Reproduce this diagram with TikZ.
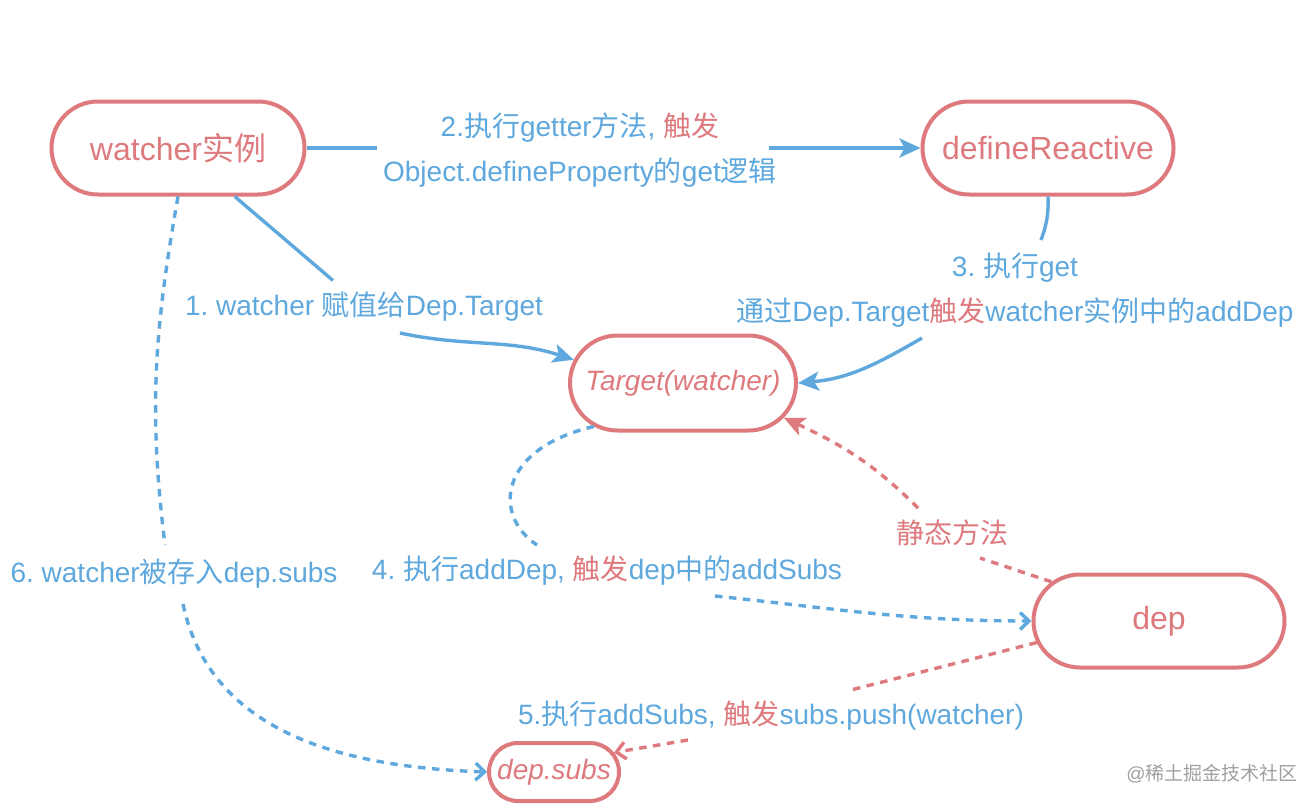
\documentclass[tikz,border=0pt]{standalone}
\usepackage{fontspec}
\setmainfont{Liberation Sans}
\newfontfamily\cjk{Noto Sans CJK SC}
\usetikzlibrary{shapes.misc,arrows.meta,calc}
\definecolor{pk}{RGB}{222,122,126}
\definecolor{bl}{RGB}{94,168,222}
\definecolor{wm}{RGB}{160,160,160}
\newcommand{\zh}[1]{{\cjk #1}}
\newcommand{\hl}[1]{\textcolor{pk}{\cjk #1}}
\frenchspacing
\begin{document}
\begin{tikzpicture}[x=1pt,y=1pt,
  box/.style={rounded rectangle, draw=pk, line width=4pt, text=pk, minimum height=93pt, inner sep=0pt, font=\fontsize{32}{38}\selectfont},
  lab/.style={text=bl, inner sep=0pt, align=center, font=\fontsize{28}{45}\selectfont},
  conn/.style={line width=3.4pt, draw=bl},
  pconn/.style={line width=3.4pt, draw=pk},
  dsh/.style={dash pattern=on 7.5pt off 6.5pt},
  solidtip/.style={-{Stealth[length=21pt,width=19pt,inset=5pt]}},
  opentip/.style={-{Straight Barb[length=9pt,width=17pt]}},
]
\fill[white] (0,0) rectangle (1306,-808);
\useasboundingbox (0,0) rectangle (1306,-808);

\node[box, minimum width=253pt] (watcher) at (178,-148) {watcher\zh{实例}};
\node[box, minimum width=251pt] (define) at (1048,-148) {defineReactive};
\node[box, minimum width=226pt, minimum height=95pt, font=\fontsize{28}{34}\selectfont\itshape] (target) at (683,-383) {Target(watcher)};
\node[box, minimum width=251pt] (dep) at (1159,-621) {dep};
\node[box, minimum width=130pt, minimum height=58pt, font=\fontsize{28}{34}\selectfont\itshape] (subs) at (554,-772) {dep.subs};

\node[lab] (l1) at (364,-307) {1. watcher \zh{赋值给}Dep.Target};
\node[lab] (l2) at (580,-150) {2.\zh{执行}getter\zh{方法}, \hl{触发}\\Object.defineProperty\zh{的}get\zh{逻辑}};
\node[lab] (l3) at (1015,-290) {3. \zh{执行}get\\\zh{通过}Dep.Target\hl{触发}watcher\zh{实例中的}addDep};
\node[lab] (l4) at (607,-571) {4. \zh{执行}addDep, \hl{触发}dep\zh{中的}addSubs};
\node[lab] (l5) at (771,-716) {5.\zh{执行}addSubs, \hl{触发}subs.push(watcher)};
\node[lab] (l6) at (174,-574) {6. watcher\zh{被存入}dep.subs};
\node[lab, text=pk] (l7) at (952,-533) {\zh{静态方法}};
\node[text=wm, inner sep=0pt, font=\fontsize{19}{22}\selectfont] (wmk) at (1212,-774) {@\zh{稀土掘金技术社区}};

\draw[conn, shorten >=18pt] (watcher) -- (l1);
\draw[conn, solidtip] ($(l1.center)+(36,-26)$) to[out=-12,in=162] (target.168);
\draw[conn, shorten >=6pt] (watcher.east) -- (watcher.east -| l2.west);
\draw[conn, solidtip] ($(define.west -| l2.east)+(-8,0)$) -- (define.west);
\draw[conn] (define.south) to[out=-88,in=70] ($(l3.center)+(26,50)$);
\draw[conn, solidtip] ($(l3.center)+(-93,-48)$) to[out=-150,in=5] (target.east);
\draw[conn, dsh] (target.206) .. controls +(-95,-22) and +(-45,30) .. ($(l4.center)+(-70,26)$);
\draw[conn, dsh, opentip] ($(l4.center)+(108,-25)$) to[out=-6,in=180] (dep.west);
\draw[pconn, dsh] (dep.190) -- ($(l5.center)+(80,26)$);
\draw[pconn, dsh, opentip] ($(l5.center)+(-83,-24)$) -- (subs.18);
\draw[conn, dsh] (watcher.south) to[out=-100,in=97] ($(l6.center)+(-9,29)$);
\draw[conn, dsh, opentip] ($(l6.center)+(9,-30)$) to[out=-78,in=178] (subs.west);
\draw[pconn, dsh] (dep.160) -- ($(l7.center)+(28,-25)$);
\draw[pconn, dsh, solidtip] ($(l7.center)+(-34,25)$) to[out=135,in=-25] (target.-19);
\end{tikzpicture}
\end{document}
